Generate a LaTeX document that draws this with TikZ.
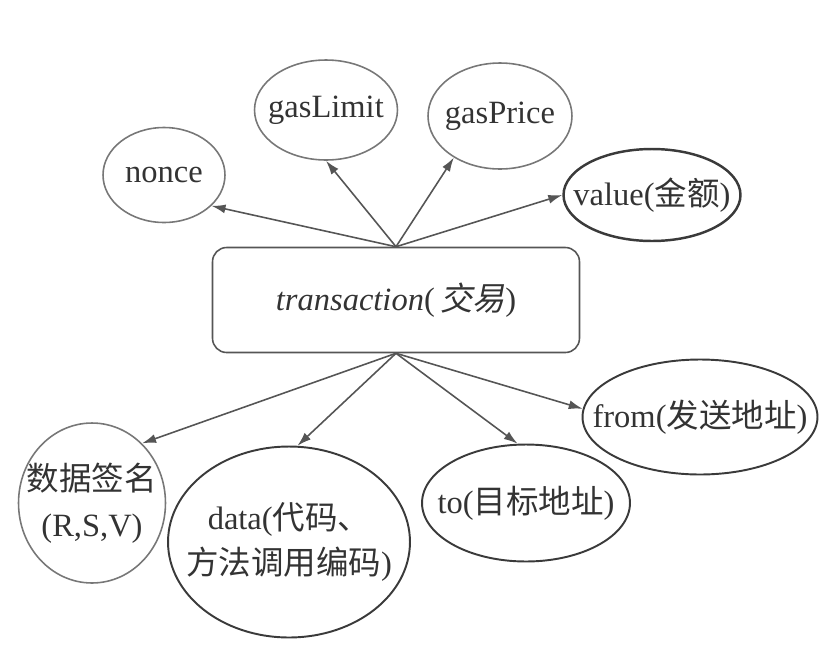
\documentclass[tikz,border=0pt]{standalone}
\usepackage{fontspec}
\setmainfont{Liberation Serif}
\newfontfamily\cjk{Noto Sans CJK SC}
\newfontfamily\cjkit[FakeSlant=0.2]{Noto Sans CJK SC}
\usetikzlibrary{arrows.meta,shapes.geometric}
\definecolor{txline}{HTML}{555555}
\definecolor{txedge}{HTML}{777777}
\definecolor{txdark}{HTML}{3A3A3A}
\definecolor{txtext}{HTML}{333333}

\begin{document}
\begin{tikzpicture}[x=0.02cm, y=-0.02cm,
    field/.style={draw=txedge, ellipse, line width=0.9pt, inner sep=0pt},
    darkfield/.style={field, draw=txdark, line width=1.1pt},
    every label/.style={font=\fontsize{18.5}{26}\selectfont, text=txtext, align=center},
    link/.style={draw=txline, line width=0.9pt, -{Latex[length=2.8mm,width=1.8mm]}}]
  \useasboundingbox (0,0) rectangle (839,667);
  \node[draw=txline, rounded corners=8pt, line width=0.9pt, minimum width=7.34cm, minimum height=2.1cm, font=\fontsize{18.5}{22}\selectfont, text=txtext] (tx) at (396,300) {\textit{transaction}(\,{\cjkit 交易})};
  % fields above the transaction
  \node[field, minimum width=2.44cm, minimum height=1.9cm, label={center:nonce}] (nonce) at (164,175) {};
  \node[field, minimum width=2.86cm, minimum height=2cm, label={center:gasLimit}] (glimit) at (326,110) {};
  \node[field, minimum width=2.88cm, minimum height=2.12cm, label={center:gasPrice}] (gprice) at (500,116) {};
  \node[darkfield, line width=1.4pt, minimum width=3.54cm, minimum height=1.84cm, label={center:{value({\cjk 金额})}}] (value) at (652,195) {};
  % fields below the transaction
  \node[field, minimum width=2.94cm, minimum height=3.2cm, label={center:{{\cjk 数据签名}\\(R,S,V)}}] (sig) at (92,503) {};
  \node[darkfield, minimum width=4.84cm, minimum height=3.82cm, label={center:{data({\cjk 代码、}\\{\cjk 方法调用编码})}}] (data) at (289,542) {};
  \node[darkfield, minimum width=4.16cm, minimum height=2.34cm, label={center:{to({\cjk 目标地址})}}] (dst) at (526,503) {};
  \node[darkfield, minimum width=4.7cm, minimum height=2.3cm, label={center:{from({\cjk 发送地址})}}] (frm) at (700,417) {};
  \draw[link] (tx.north) -- (nonce.-33);
  \draw[link] (tx.north) -- (glimit.south);
  \draw[link] (tx.north) -- (gprice.-138);
  \draw[link] (tx.north) -- (value.west);
  \draw[link] (tx.south) -- (sig.50);
  \draw[link] (tx.south) -- (data.85);
  \draw[link] (tx.south) -- (dst.98);
  \draw[link] (tx.south) -- (frm.176);
\end{tikzpicture}
\end{document}
